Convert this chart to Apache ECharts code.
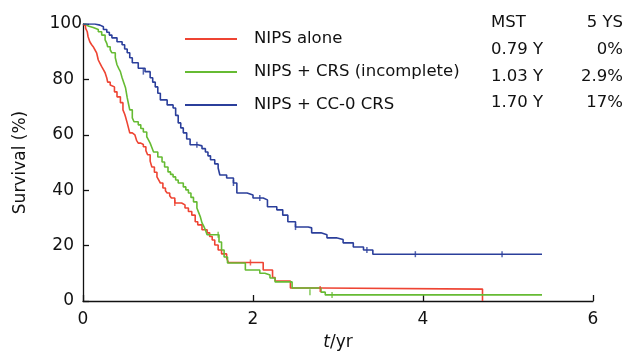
<!DOCTYPE html>
<html>
<head>
<meta charset="utf-8">
<script src="https://cdn.jsdelivr.net/npm/echarts@6/dist/echarts.min.js"></script>
<style>html,body{margin:0;padding:0;background:#fff}#c{width:630px;height:351px}</style>
</head>
<body>
<div id="c"></div>
<script>
// Kaplan-Meier step data: [time (yr), survival (%)]
var seriesNames = ['NIPS alone', 'NIPS + CRS (incomplete)', 'NIPS + CC-0 CRS'];
var nipsAlone = [
  [0,100],[0.02,99.3],[0.03,98.5],[0.05,97.2],[0.06,95.4],[0.08,93.6],[0.10,92.6],[0.12,91.8],
  [0.14,90.7],[0.16,89.6],[0.18,87],[0.20,85.8],[0.22,84.6],[0.24,83.5],[0.26,82.4],[0.28,80.5],
  [0.29,79],[0.32,78],[0.34,77.3],[0.37,75.5],[0.40,73.7],[0.44,71.6],[0.47,69],[0.49,67.5],
  [0.50,66.5],[0.52,64.3],[0.535,62.5],[0.55,60.7],[0.58,60],[0.61,59.3],[0.63,58],[0.65,57],
  [0.68,56.5],[0.71,55.7],[0.74,54.3],[0.76,52.8],[0.79,50.5],[0.81,48.4],[0.84,46.5],[0.87,44.8],
  [0.89,43.7],[0.91,42.6],[0.94,40.8],[0.97,39.8],[0.99,39],[1.02,38],[1.04,37.2],[1.08,35.4],
  [1.16,34.7],[1.20,33.6],[1.24,32.3],[1.28,31],[1.32,28.6],[1.35,27.5],[1.40,25.7],[1.46,24.6],
  [1.49,23.3],[1.52,22],[1.55,20.2],[1.59,18.4],[1.63,17],[1.69,15.5],[1.71,13.9],[2.12,11.2],
  [2.23,8.5],[2.26,7.2],[2.44,4.7],[2.81,4.3],[4.70,0]
];
var nipsCrs = [
  [0,100],[0.03,99.3],[0.06,98.7],[0.12,98],[0.18,97.2],[0.22,96],[0.26,94.3],[0.28,93],
  [0.29,91.8],[0.32,90.7],[0.34,89.6],[0.38,87.8],[0.40,85.3],[0.42,84],[0.44,82.8],[0.46,80.6],
  [0.48,78.8],[0.50,77],[0.51,75.2],[0.52,73.4],[0.535,71.2],[0.55,69],[0.58,66.1],[0.60,64.7],
  [0.65,63.6],[0.68,62.3],[0.71,61],[0.75,59.3],[0.77,58.2],[0.79,57],[0.81,55.4],[0.83,53.8],
  [0.88,52],[0.93,50.2],[0.96,48.4],[1.00,46.6],[1.03,45.7],[1.06,44.8],[1.09,43.7],[1.12,42.6],
  [1.18,41.2],[1.21,40.1],[1.24,39],[1.27,37.4],[1.30,35.8],[1.34,33.6],[1.36,32],[1.38,30.4],
  [1.40,28.2],[1.42,27],[1.44,25.7],[1.46,23.9],[1.60,21.3],[1.63,18.4],[1.66,15.9],[1.70,13.7],
  [1.91,11.2],[2.08,10],[2.14,9.4],[2.20,8.3],[2.26,6.9],[2.46,4.7],[2.80,3.2],[2.85,2.2],[5.40,2.2]
];
var nipsCc0 = [
  [0,100],[0.14,99.6],[0.20,99],[0.24,98],[0.28,97],[0.31,96],[0.34,95],[0.40,93.6],
  [0.46,92.5],[0.49,91],[0.52,89.6],[0.55,87.8],[0.58,86],[0.65,84],[0.73,82.8],[0.79,80.6],
  [0.82,79],[0.85,77.3],[0.88,75],[0.91,72.6],[0.99,70.8],[1.06,69.7],[1.09,67],[1.12,64.3],
  [1.15,62.5],[1.18,60.7],[1.22,58.5],[1.26,56.4],[1.35,56],[1.40,55],[1.44,53.8],[1.47,52.4],
  [1.50,51],[1.55,49.5],[1.59,48],[1.61,45.5],[1.69,44.4],[1.77,42.6],[1.81,39],[1.93,38.3],
  [2.00,37.2],[2.12,36.5],[2.17,34],[2.28,32.9],[2.35,31],[2.41,28.6],[2.50,26.7],[2.65,26.4],
  [2.69,24.6],[2.80,23.9],[2.87,22.8],[2.98,22.2],[3.06,21],[3.18,19.5],[3.30,18.4],[3.41,16.9],
  [5.40,16.9]
];
// censored observations (tick marks)
var censAlone = [[1.08,35.4],[1.97,13.9],[2.79,4.3]];
var censCrs = [[1.59,23.9],[2.67,3.2],[2.93,2.2]];
var censCc0 = [[0.71,82.8],[1.34,56.4],[1.77,42.6],[2.08,37.2],[2.50,26.7],[3.34,18.4],[3.91,16.9],[4.93,16.9]];
// table
var tableHeader = ['MST', '5 YS'];
var mstValues = ['0.79 Y', '1.03 Y', '1.70 Y'];
var ysValues = ['0%', '2.9%', '17%'];

var colors = ['#ee4433', '#66bb33', '#2b3f9b'];
var FONT = '"DejaVu Sans", Verdana, sans-serif';

function kmSeries(name, data, color) {
  return {
    name: name, type: 'line', step: 'end', data: data, symbol: 'none', showSymbol: false,
    lineStyle: { color: color, width: 1.6 }, itemStyle: { color: color },
    z: 3
  };
}
function censSeries(data, color) {
  return {
    type: 'scatter', data: data, symbol: 'rect', symbolSize: [1.5, 6],
    itemStyle: { color: color }, z: 4, silent: true
  };
}

var graphics = [];
var headY = 23.5, rowY = [50, 77, 103.5];
graphics.push({ type: 'text', left: 491, top: headY - 9, style: { text: tableHeader[0], font: '16.5px ' + FONT, fill: '#111' } });
graphics.push({ type: 'text', right: 7, top: headY - 9, style: { text: tableHeader[1], font: '16.5px ' + FONT, fill: '#111', align: 'right' } });
for (var i = 0; i < 3; i++) {
  graphics.push({ type: 'text', left: 491, top: rowY[i] - 9, style: { text: mstValues[i], font: '16.5px ' + FONT, fill: '#111' } });
  graphics.push({ type: 'text', right: 7, top: rowY[i] - 9, style: { text: ysValues[i], font: '16.5px ' + FONT, fill: '#111', align: 'right' } });
}

var chart = echarts.init(document.getElementById('c'), null, { renderer: 'canvas' });
chart.setOption({
  animation: false,
  backgroundColor: '#fff',
  grid: { left: 83, right: 37, top: 24, bottom: 50, containLabel: false, outerBoundsMode: 'none' },
  legend: {
    data: seriesNames.map(function (n) { return { name: n, icon: 'rect' }; }),
    orient: 'vertical', left: 185, top: 30.5, padding: 0,
    itemWidth: 52, itemHeight: 2, itemGap: 16,
    textStyle: { fontFamily: FONT, fontSize: 16.5, color: '#111', padding: [0, 0, 0, 12], lineHeight: 16 }
  },
  xAxis: {
    type: 'value', min: 0, max: 6, interval: 2,
    name: '{i|t}/yr', nameLocation: 'middle', nameGap: 33,
    nameTextStyle: { fontFamily: FONT, fontSize: 17, color: '#111', rich: { i: { fontFamily: FONT, fontSize: 17, fontStyle: 'italic', color: '#111' } } },
    axisLine: { show: true, lineStyle: { color: '#111', width: 1.3 } },
    axisTick: { show: true, inside: true, length: 6, lineStyle: { color: '#111', width: 1.3 } },
    axisLabel: { fontFamily: FONT, fontSize: 17, color: '#111', margin: 10 },
    splitLine: { show: false }
  },
  yAxis: {
    type: 'value', min: 0, max: 100, interval: 20,
    name: 'Survival (%)', nameLocation: 'middle', nameGap: 54,
    nameTextStyle: { fontFamily: FONT, fontSize: 17, color: '#111' },
    axisLine: { show: true, lineStyle: { color: '#111', width: 1.3 } },
    axisTick: { show: true, inside: true, length: 6, lineStyle: { color: '#111', width: 1.3 } },
    axisLabel: {
      fontFamily: FONT, fontSize: 17, color: '#111', margin: 9,
      formatter: function (v) { return v === 100 ? '{h|100}' : String(v); },
      rich: { h: { fontFamily: FONT, fontSize: 17, color: '#111', padding: [0, -8, 0, 0] } }
    },
    splitLine: { show: false }
  },
  series: [
    kmSeries(seriesNames[0], nipsAlone, colors[0]),
    kmSeries(seriesNames[1], nipsCrs, colors[1]),
    kmSeries(seriesNames[2], nipsCc0, colors[2]),
    censSeries(censAlone, colors[0]),
    censSeries(censCrs, colors[1]),
    censSeries(censCc0, colors[2])
  ],
  graphic: graphics
});
</script>
</body>
</html>
